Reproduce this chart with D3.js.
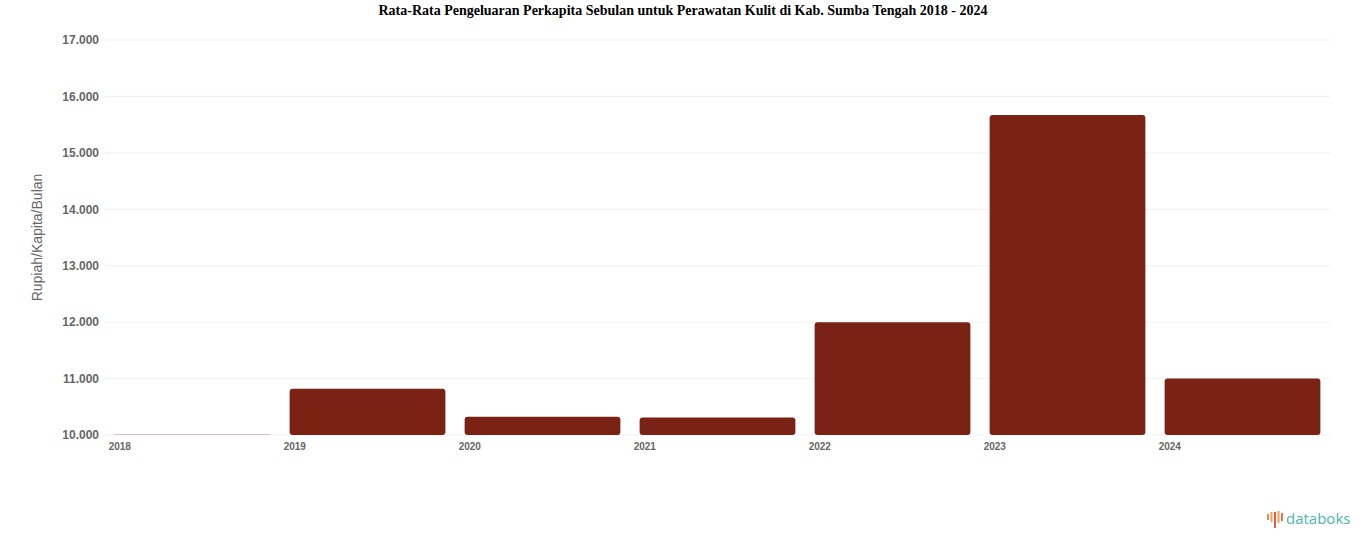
<!DOCTYPE html>
<html>
<head>
<meta charset="utf-8">
<script src="https://cdn.jsdelivr.net/npm/d3@7/dist/d3.min.js"></script>
<style>
  html, body { margin: 0; padding: 0; background: #ffffff; }
  svg { display: block; }
</style>
</head>
<body>
<svg id="chart" width="1366" height="547"></svg>
<script>
const titleText = "Rata-Rata Pengeluaran Perkapita Sebulan untuk Perawatan Kulit di Kab. Sumba Tengah 2018 - 2024";
const yAxisTitle = "Rupiah/Kapita/Bulan";
const years = ["2018", "2019", "2020", "2021", "2022", "2023", "2024"];
const values = [10006, 10820, 10325, 10310, 12000, 15670, 11000];
const yTicks = [10000, 11000, 12000, 13000, 14000, 15000, 16000, 17000];

const svg = d3.select("#chart");
const W = 1366, H = 547;
const m = { left: 105, right: 36, top: 40, bottom: 112 };

const x = d3.scaleBand().domain(years).range([m.left, W - m.right])
  .paddingInner(0.11).paddingOuter(0.055);
const y = d3.scaleLinear().domain([yTicks[0], yTicks[yTicks.length - 1]])
  .range([H - m.bottom, m.top]);

const fmt = v => d3.format(",")(v).replace(/,/g, ".");

// gridlines
svg.append("g").selectAll("line").data(yTicks).join("line")
  .attr("x1", m.left).attr("x2", W - m.right)
  .attr("y1", d => y(d)).attr("y2", d => y(d))
  .attr("stroke", "#f0f0f0").attr("stroke-width", 1);

// y axis labels
const yAxis = d3.axisLeft(y).tickValues(yTicks).tickFormat(fmt).tickSize(0).tickPadding(6);
const gy = svg.append("g").attr("transform", `translate(${m.left},0)`).call(yAxis);
gy.select(".domain").remove();
gy.selectAll("text").attr("font-family", "Liberation Sans, Arial, sans-serif")
  .attr("font-size", 12).attr("font-weight", "bold").attr("fill", "#666666");

// bars
svg.append("g").selectAll("rect").data(years).join("rect")
  .attr("x", d => x(d))
  .attr("width", x.bandwidth())
  .attr("y", (d, i) => y(values[i]))
  .attr("height", (d, i) => y(yTicks[0]) - y(values[i]))
  .attr("rx", (d, i) => Math.min(3, (y(yTicks[0]) - y(values[i])) / 2))
  .attr("fill", "#7a2214");

// x axis labels (left aligned at band start)
const xAxis = d3.axisBottom(x).tickSize(0).tickPadding(0);
const gx = svg.append("g").attr("transform", `translate(0,${H - m.bottom})`).call(xAxis);
gx.select(".domain").remove();
gx.selectAll(".tick").attr("transform", d => `translate(${x(d) - 6},0)`);
gx.selectAll("text").attr("text-anchor", "start").attr("dy", "1.45em")
  .attr("font-family", "Liberation Sans, Arial, sans-serif")
  .attr("font-size", 10).attr("font-weight", "bold").attr("fill", "#666666");

// y axis title
svg.append("text")
  .attr("transform", `translate(42,${(m.top + H - m.bottom) / 2}) rotate(-90)`)
  .attr("text-anchor", "middle")
  .attr("font-family", "Liberation Sans, Arial, sans-serif")
  .attr("font-size", 14).attr("fill", "#666666")
  .text(yAxisTitle);

// title
svg.append("text")
  .attr("x", W / 2).attr("y", 15)
  .attr("text-anchor", "middle")
  .attr("font-family", "Liberation Serif, Times New Roman, serif")
  .attr("font-weight", "bold").attr("font-size", 14).attr("fill", "#000000")
  .text(titleText);

// databoks logo
const logoBars = [
  { dx: 0, h: 6, c: "#f08a5d" },
  { dx: 3.5, h: 10, c: "#f4a04f" },
  { dx: 7, h: 16, c: "#e8594f" },
  { dx: 10.5, h: 12, c: "#f4a04f" },
  { dx: 14, h: 8, c: "#ee6e50" }
];
const logo = svg.append("g").attr("transform", "translate(1267,518)");
logo.selectAll("rect").data(logoBars).join("rect")
  .attr("x", d => d.dx).attr("y", d => -d.h / 2 - (d.dx === 7 ? -2 : 1))
  .attr("width", 2).attr("height", d => d.h).attr("fill", d => d.c);
svg.append("text")
  .attr("x", 1286).attr("y", 524)
  .attr("font-family", "Open Sans, Liberation Sans, sans-serif")
  .attr("font-size", 15).attr("fill", "#4db6ac")
  .text("databoks");
</script>
</body>
</html>
